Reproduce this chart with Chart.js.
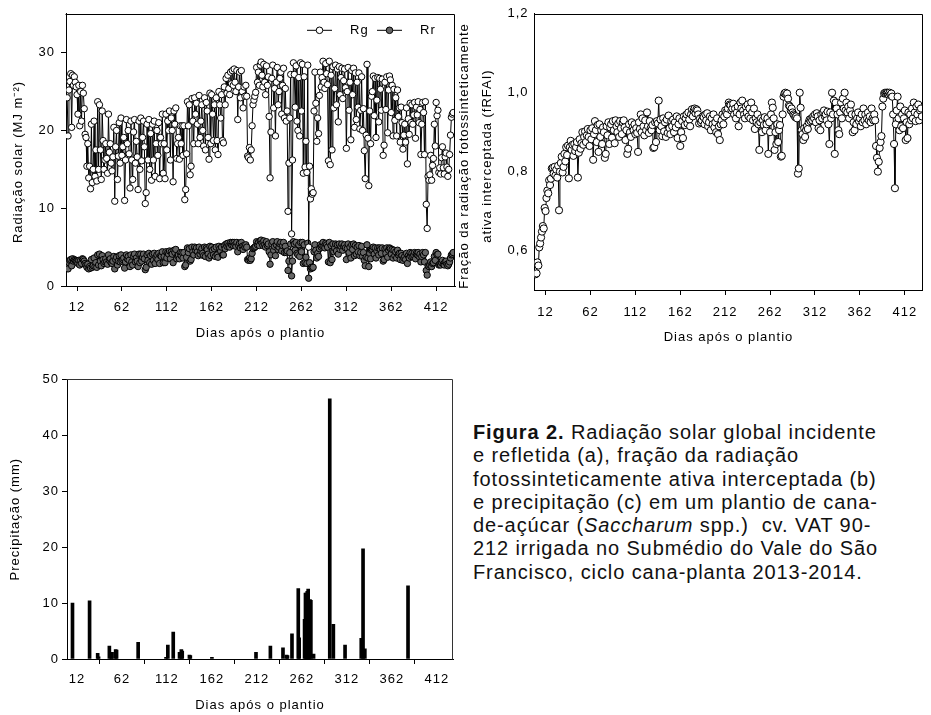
<!DOCTYPE html>
<html>
<head>
<meta charset="utf-8">
<script src="https://cdn.jsdelivr.net/npm/chart.js@4.4.0/dist/chart.umd.min.js"></script>
<style>
  html, body { margin: 0; padding: 0; background: #fff; }
  body { width: 931px; height: 715px; position: relative; overflow: hidden; }
  canvas { position: absolute; }
  #chartA { left: 0; top: 0; }
  #chartB { left: 455px; top: 0; }
  #chartC { left: 0; top: 360px; }
  .caption {
    position: absolute; left: 473px; top: 421px;
    font-family: 'Liberation Sans', Arial, sans-serif;
    font-size: 20px; line-height: 23.3px; letter-spacing: 0.9px;
    color: #111; white-space: nowrap;
  }
</style>
</head>
<body>
<canvas id="chartA" width="460" height="345"></canvas>
<canvas id="chartB" width="476" height="350"></canvas>
<canvas id="chartC" width="460" height="355"></canvas>
<div class="caption">
  <b>Figura 2.</b> Radiação solar global incidente<br>
  e refletida (a), fração da radiação<br>
  fotossinteticamente ativa interceptada (b)<br>
  e precipitação (c) em um plantio de cana-<br>
  de-açúcar (<i>Saccharum</i> spp.)&nbsp; cv. VAT 90-<br>
  212 irrigada no Submédio do Vale do São<br>
  Francisco, ciclo cana-planta 2013-2014.
</div>
<script>
// first day of the daily series (days after planting)
const firstDay = 1;
const dayTicks = [12, 62, 112, 162, 212, 262, 312, 362, 412];

// Rg - global incident solar radiation (MJ m-2), one value per day
const rg = [
  24.2, 19.3, 25.2, 26.3, 27.3, 20.4, 27.1, 25.8, 26.9, 26.2,
  25.6, 24.6, 22.1, 25.8, 20.6, 25.0, 21.2, 25.8, 24.8, 22.8,
  19.5, 19.1, 15.4, 18.3, 13.9, 15.4, 12.5, 20.8, 13.3, 15.0,
  21.2, 14.1, 17.5, 13.5, 23.7, 15.0, 23.3, 17.5, 13.7, 22.5,
  18.7, 15.0, 16.2, 18.3, 16.4, 14.5, 22.1, 17.2, 18.3, 15.8,
  14.8, 16.6, 20.4, 10.9, 17.9, 20.0, 13.7, 16.7, 21.0, 15.8,
  21.6, 16.8, 17.9, 19.1, 11.0, 16.2, 21.4, 18.3, 20.0, 17.0,
  12.6, 21.2, 16.2, 13.7, 19.8, 21.4, 15.8, 18.6, 16.6, 12.4,
  21.2, 15.0, 21.6, 16.1, 19.1, 21.2, 17.9, 10.6, 12.0, 20.8,
  16.2, 21.4, 15.0, 19.6, 13.6, 20.8, 16.2, 21.2, 14.1, 18.3,
  20.0, 16.8, 21.0, 13.8, 19.1, 18.3, 22.1, 14.5, 18.3, 13.8,
  22.1, 17.5, 21.2, 20.0, 22.5, 16.2, 21.6, 20.0, 13.4, 22.5,
  20.8, 22.9, 16.4, 18.3, 19.1, 16.3, 20.6, 18.3, 20.6, 16.8,
  20.6, 11.1, 12.4, 17.0, 23.7, 20.6, 23.3, 14.3, 15.4, 24.1,
  21.2, 18.3, 24.2, 22.1, 23.5, 20.8, 18.3, 24.5, 19.1, 21.2,
  23.3, 20.0, 18.0, 24.2, 17.5, 23.6, 22.5, 19.1, 16.3, 24.8,
  18.3, 24.6, 22.1, 18.7, 23.3, 17.5, 24.2, 18.7, 16.9, 25.0,
  23.3, 21.6, 24.6, 18.7, 18.4, 25.6, 23.3, 26.7, 24.8, 27.1,
  25.4, 24.6, 27.5, 26.0, 27.7, 25.8, 27.9, 26.2, 25.0, 27.7,
  21.4, 25.6, 27.5, 24.2, 27.7, 25.0, 22.9, 25.6, 24.4, 25.8,
  24.4, 16.7, 16.5, 17.8, 16.2, 17.5, 20.6, 23.3, 23.9, 24.4,
  24.9, 28.1, 26.2, 27.5, 25.8, 28.4, 28.8, 27.1, 25.6, 28.5,
  26.2, 24.6, 28.3, 25.8, 26.9, 21.8, 13.9, 19.8, 26.7, 28.4,
  22.9, 25.4, 19.3, 26.2, 28.1, 23.3, 25.0, 26.7, 27.5, 22.1,
  25.8, 28.0, 21.6, 25.4, 21.2, 22.5, 9.6, 15.8, 21.6, 27.2,
  6.7, 16.2, 28.7, 27.2, 23.0, 28.3, 21.2, 20.0, 26.8, 19.3,
  28.7, 22.5, 28.5, 14.5, 26.9, 15.3, 18.6, 14.6, 28.4, 5.0,
  15.4, 11.2, 12.5, 11.8, 12.0, 22.5, 27.5, 23.5, 18.6, 21.6,
  19.6, 24.5, 27.5, 25.6, 26.8, 28.9, 26.2, 25.4, 28.6, 27.3,
  25.9, 16.1, 28.9, 15.6, 27.1, 17.5, 28.2, 22.9, 25.4, 28.4,
  23.3, 27.9, 21.1, 28.2, 24.6, 26.8, 28.0, 24.1, 26.4, 27.9,
  25.5, 17.7, 25.0, 28.1, 22.6, 26.2, 18.8, 27.7, 24.6, 28.0,
  20.4, 27.4, 21.4, 26.2, 23.0, 27.4, 20.2, 22.6, 26.9, 20.0,
  22.8, 17.4, 13.8, 19.4, 28.5, 19.0, 12.9, 22.5, 18.3, 24.4,
  25.0, 27.0, 21.9, 26.7, 19.1, 23.9, 26.8, 21.1, 26.7, 25.3,
  22.6, 26.6, 16.8, 18.1, 26.2, 22.7, 26.9, 19.7, 25.2, 27.0,
  26.5, 22.3, 25.8, 19.3, 25.3, 21.3, 24.2, 19.3, 25.2, 21.8,
  22.9, 18.5, 23.0, 21.0, 17.6, 19.4, 20.8, 18.5, 22.9, 15.7,
  21.5, 19.5, 23.5, 21.0, 23.3, 20.8, 22.0, 23.6, 19.0, 23.0,
  22.0, 23.7, 21.0, 22.7, 16.9, 20.8, 23.6, 22.3, 16.9, 23.7,
  10.5, 7.4, 14.1, 13.6, 14.3, 16.8, 13.6, 15.5, 16.4, 20.8,
  18.0, 23.6, 21.9, 22.6, 14.6, 15.2, 14.4, 16.5, 17.9, 15.2,
  14.4, 16.6, 17.1, 15.3, 14.1, 15.0, 16.9, 19.4, 21.7, 22.1, 22.3
];

// Rr - reflected solar radiation (MJ m-2)
const rr = [
  2.7, 2.2, 3.0, 3.3, 3.4, 2.6, 3.5, 3.2, 3.4, 3.3,
  3.2, 3.1, 2.9, 3.3, 2.7, 3.3, 2.9, 3.5, 3.4, 3.2,
  2.9, 2.7, 2.4, 2.8, 2.2, 2.5, 2.3, 3.4, 2.4, 2.6,
  3.6, 2.5, 3.0, 2.4, 4.0, 2.7, 4.1, 3.2, 2.6, 3.9,
  3.4, 2.9, 3.1, 3.5, 3.1, 2.8, 4.0, 3.3, 3.5, 3.0,
  2.9, 3.2, 3.8, 2.2, 3.4, 3.7, 2.7, 3.2, 3.9, 3.1,
  4.0, 3.2, 3.4, 3.6, 2.3, 3.1, 4.0, 3.5, 3.8, 3.3,
  2.5, 4.0, 3.1, 2.7, 3.8, 4.1, 3.1, 3.6, 3.2, 2.5,
  4.1, 3.0, 4.1, 3.2, 3.7, 4.1, 3.5, 2.1, 2.4, 4.0,
  3.3, 4.2, 3.0, 3.9, 2.8, 4.1, 3.3, 4.2, 2.9, 3.7,
  4.0, 3.4, 4.2, 2.9, 3.9, 3.8, 4.4, 3.0, 3.8, 3.0,
  4.4, 3.6, 4.3, 4.1, 4.5, 3.5, 4.4, 4.1, 3.0, 4.6,
  4.3, 4.7, 3.5, 3.9, 4.0, 3.5, 4.3, 3.9, 4.3, 3.6,
  4.3, 2.5, 2.7, 3.7, 4.9, 4.3, 4.8, 3.2, 3.4, 5.0,
  4.4, 4.0, 5.0, 4.6, 4.9, 4.4, 3.9, 5.0, 4.1, 4.5,
  4.8, 4.2, 3.9, 5.0, 3.8, 4.9, 4.7, 4.1, 3.6, 5.1,
  3.9, 5.0, 4.6, 4.0, 4.8, 3.8, 5.0, 4.0, 3.7, 5.1,
  4.8, 4.5, 5.0, 4.0, 4.0, 5.2, 4.8, 5.4, 5.1, 5.5,
  5.2, 5.0, 5.6, 5.3, 5.6, 5.2, 5.6, 5.3, 5.1, 5.6,
  4.4, 5.2, 5.5, 4.9, 5.6, 5.1, 4.7, 5.2, 5.0, 5.3,
  5.0, 3.4, 3.3, 3.6, 3.3, 3.5, 4.2, 4.8, 4.9, 5.0,
  5.1, 5.7, 5.3, 5.6, 5.2, 5.8, 5.9, 5.5, 5.2, 5.8,
  5.3, 5.0, 5.7, 5.2, 5.4, 4.4, 2.8, 4.0, 5.4, 5.7,
  4.6, 5.1, 3.9, 5.3, 5.7, 4.7, 5.0, 5.4, 5.6, 4.5,
  5.2, 5.6, 4.3, 5.1, 4.3, 4.5, 2.0, 3.2, 4.3, 5.4,
  1.3, 3.2, 5.7, 5.4, 4.6, 5.6, 4.2, 4.0, 5.3, 3.8,
  5.6, 4.4, 5.6, 2.9, 5.3, 3.0, 3.7, 2.9, 5.5, 1.0,
  3.0, 2.2, 2.4, 2.3, 2.4, 4.4, 5.3, 4.6, 3.6, 4.2,
  3.8, 4.8, 5.3, 5.0, 5.2, 5.6, 5.1, 4.9, 5.5, 5.3,
  5.0, 3.1, 5.6, 3.0, 5.2, 3.4, 5.4, 4.4, 4.9, 5.4,
  4.5, 5.3, 4.1, 5.4, 4.7, 5.1, 5.4, 4.6, 5.1, 5.3,
  4.9, 3.4, 4.8, 5.4, 4.3, 5.0, 3.6, 5.3, 4.7, 5.4,
  3.9, 5.2, 4.1, 5.0, 4.4, 5.2, 3.9, 4.3, 5.1, 3.8,
  4.3, 3.3, 2.6, 3.7, 5.3, 3.6, 2.5, 4.2, 3.5, 4.6,
  4.7, 5.0, 4.1, 4.9, 3.6, 4.5, 4.9, 4.0, 4.9, 4.7,
  4.2, 4.9, 3.2, 3.4, 4.8, 4.2, 4.9, 3.7, 4.6, 4.9,
  4.8, 4.1, 4.7, 3.6, 4.6, 3.9, 4.4, 3.6, 4.6, 4.0,
  4.2, 3.4, 4.2, 3.9, 3.3, 3.6, 3.8, 3.4, 4.2, 2.9,
  3.9, 3.6, 4.3, 3.8, 4.2, 3.8, 4.0, 4.3, 3.5, 4.2,
  4.0, 4.3, 3.8, 4.1, 3.1, 3.8, 4.3, 4.0, 3.1, 4.3,
  2.0, 1.4, 2.6, 2.5, 2.7, 3.1, 2.5, 2.9, 3.0, 3.8,
  3.3, 4.3, 4.0, 4.1, 2.7, 2.8, 2.7, 3.0, 3.3, 2.8,
  2.7, 3.1, 3.2, 2.8, 2.6, 2.8, 3.1, 3.6, 4.0, 4.1, 4.3
];

// fRFAI - fraction of intercepted photosynthetically active radiation
const frfai = [
  0.540, 0.542, 0.570, 0.562, 0.608, 0.618, 0.633, 0.648, 0.662, 0.656,
  0.708, 0.700, 0.733, 0.752, 0.745, 0.778, 0.766, 0.782, 0.808, 0.810,
  0.795, 0.812, 0.790, 0.805, 0.785, 0.815, 0.702, 0.800, 0.822, 0.838,
  0.798, 0.812, 0.845, 0.826, 0.862, 0.842, 0.866, 0.783, 0.862, 0.878,
  0.855, 0.868, 0.840, 0.870, 0.852, 0.862, 0.875, 0.785, 0.848, 0.882,
  0.858, 0.872, 0.900, 0.868, 0.888, 0.902, 0.875, 0.892, 0.908, 0.888,
  0.865, 0.905, 0.882, 0.910, 0.830, 0.895, 0.928, 0.905, 0.875, 0.918,
  0.850, 0.920, 0.888, 0.905, 0.870, 0.912, 0.900, 0.835, 0.845, 0.915,
  0.892, 0.925, 0.870, 0.912, 0.920, 0.886, 0.928, 0.905, 0.872, 0.930,
  0.915, 0.900, 0.922, 0.888, 0.928, 0.910, 0.895, 0.925, 0.930, 0.912,
  0.880, 0.905, 0.845, 0.858, 0.920, 0.900, 0.888, 0.925, 0.912, 0.905,
  0.920, 0.895, 0.910, 0.898, 0.850, 0.925, 0.908, 0.945, 0.900, 0.935,
  0.915, 0.892, 0.930, 0.905, 0.950, 0.915, 0.898, 0.928, 0.910, 0.905,
  0.918, 0.860, 0.862, 0.925, 0.875, 0.928, 0.922, 0.980, 0.905, 0.932,
  0.915, 0.890, 0.935, 0.902, 0.925, 0.888, 0.932, 0.898, 0.942, 0.910,
  0.895, 0.928, 0.915, 0.932, 0.900, 0.925, 0.912, 0.940, 0.885, 0.920,
  0.935, 0.865, 0.900, 0.928, 0.885, 0.940, 0.918, 0.935, 0.945, 0.922,
  0.950, 0.932, 0.915, 0.945, 0.958, 0.940, 0.955, 0.960, 0.948, 0.958,
  0.955, 0.945, 0.922, 0.935, 0.925, 0.930, 0.940, 0.938, 0.920, 0.945,
  0.930, 0.948, 0.915, 0.925, 0.940, 0.905, 0.935, 0.920, 0.945, 0.912,
  0.925, 0.900, 0.935, 0.895, 0.915, 0.880, 0.920, 0.930, 0.945, 0.920,
  0.940, 0.955, 0.950, 0.945, 0.960, 0.975, 0.970, 0.968, 0.955, 0.960,
  0.972, 0.945, 0.960, 0.935, 0.950, 0.965, 0.915, 0.945, 0.975, 0.960,
  0.980, 0.955, 0.945, 0.935, 0.965, 0.950, 0.970, 0.940, 0.960, 0.935,
  0.975, 0.950, 0.930, 0.960, 0.908, 0.935, 0.925, 0.945, 0.920, 0.855,
  0.925, 0.935, 0.900, 0.930, 0.918, 0.938, 0.905, 0.920, 0.935, 0.845,
  0.925, 0.900, 0.945, 0.975, 0.962, 0.935, 0.855, 0.900, 0.870, 0.920,
  0.875, 0.905, 0.918, 0.838, 0.840, 0.945, 0.990, 0.998, 1.000, 0.995,
  0.998, 0.985, 0.968, 0.965, 0.955, 0.960, 0.950, 0.945, 0.942, 0.938,
  0.940, 0.935, 0.795, 0.808, 1.000, 0.962, 0.905, 0.895, 0.880, 0.910,
  0.888, 0.905, 0.915, 0.908, 0.925, 0.932, 0.928, 0.935, 0.930, 0.940,
  0.935, 0.945, 0.925, 0.948, 0.940, 0.910, 0.930, 0.905, 0.945, 0.935,
  0.950, 0.955, 0.940, 0.945, 0.930, 0.952, 0.920, 0.870, 0.950, 0.935,
  1.000, 0.945, 0.980, 0.845, 0.975, 0.960, 0.945, 0.905, 0.895, 0.950,
  0.975, 0.935, 0.985, 0.960, 1.000, 0.955, 0.975, 0.950, 0.965, 0.935,
  0.955, 0.970, 0.945, 0.900, 0.925, 0.905, 0.945, 0.920, 0.935, 0.950,
  0.928, 0.935, 0.915, 0.945, 0.925, 0.960, 0.930, 0.945, 0.920, 0.935,
  0.950, 0.930, 0.940, 0.925, 0.960, 0.935, 0.930, 0.945, 0.930, 0.865,
  0.835, 0.800, 0.825, 0.860, 0.875, 0.890, 0.965, 0.985, 0.998, 1.000,
  0.998, 1.000, 1.000, 0.995, 1.000, 0.995, 0.998, 0.990, 0.945, 0.870,
  0.758, 0.920, 0.955, 0.990, 0.935, 0.905, 0.965, 0.915, 0.945, 0.910,
  0.935, 0.955, 0.880, 0.925, 0.885, 0.950, 0.920, 0.945, 0.930, 0.960,
  0.935, 0.975, 0.950, 0.928, 0.965, 0.945, 0.970, 0.930, 0.955, 0.960, 0.940
];

// rain events: day after planting and depth (mm)
const rainDays = [7, 26, 35, 36, 48, 50, 51, 55, 56, 80, 111, 113, 119, 126, 128, 129, 137, 138,
  162, 211, 227, 241, 245, 246, 251, 258, 259, 265, 266, 267, 268, 269, 270, 271, 272, 275,
  293, 297, 310, 328, 330, 332, 380];
const rainMm = [10.0, 10.4, 1.0, 0.4, 2.3, 0.5, 1.2, 1.7, 1.6, 3.0, 0.3, 2.5, 4.8, 1.2, 1.7, 1.4, 0.7, 0.6,
  0.3, 1.2, 2.3, 2.0, 0.7, 0.6, 4.5, 12.6, 3.8, 7.1, 11.8, 11.8, 12.1, 12.5, 9.0, 10.6, 10.5, 0.9,
  46.5, 6.2, 2.5, 3.7, 19.7, 1.8, 13.1];

const yTicksA = [0, 10, 20, 30];
const yTicksB = [0.6, 0.8, 1.0, 1.2];
const yTicksC = [0, 10, 20, 30, 40, 50];

const FONT = "'Liberation Sans', Arial, sans-serif";
const INK = '#000';

const toPoints = arr => arr.map((v, i) => ({ x: firstDay + i, y: v }));

// wide tracking of the original figure's lettering
const tracking = {
  id: 'tracking',
  beforeDraw(chart) { chart.ctx.letterSpacing = '1px'; }
};

// closed box around the plot area
const frame = {
  id: 'frame',
  afterDraw(chart, args, opts) {
    const { left, top, right, bottom } = chart.chartArea;
    const ctx = chart.ctx;
    ctx.save();
    ctx.strokeStyle = opts.color || INK;
    ctx.lineWidth = 1;
    ctx.beginPath();
    ctx.moveTo(Math.round(left) - 0.5, Math.round(top) + 0.5);
    ctx.lineTo(Math.round(right) - 0.5, Math.round(top) + 0.5);
    ctx.lineTo(Math.round(right) - 0.5, Math.round(bottom) + 0.5);
    ctx.stroke();
    ctx.restore();
  }
};

// rotated y title, placed where the original has it (a bit below the axis centre)
const sideTitle = {
  id: 'sideTitle',
  afterDraw(chart, args, opts) {
    if (!opts.lines) return;
    const ctx = chart.ctx;
    ctx.save();
    ctx.translate(opts.x, opts.y);
    ctx.rotate(-Math.PI / 2);
    ctx.font = '13px ' + FONT;
    ctx.fillStyle = INK;
    ctx.textAlign = 'center';
    ctx.textBaseline = 'middle';
    opts.lines.forEach((t, i) => ctx.fillText(t, 0, i * (opts.lineHeight || 16)));
    ctx.restore();
  }
};

// legend drawn inside the plot: line with marker, then label
const innerLegend = {
  id: 'innerLegend',
  afterDraw(chart, args, opts) {
    if (!opts.starts) return;
    const ctx = chart.ctx;
    const y = chart.chartArea.top + 16;
    ctx.save();
    ctx.font = '13px ' + FONT;
    ctx.textBaseline = 'middle';
    chart.data.datasets.forEach((ds, i) => {
      const x0 = opts.starts[i];
      ctx.strokeStyle = INK;
      ctx.lineWidth = 1;
      ctx.beginPath();
      ctx.moveTo(x0, y + 0.5);
      ctx.lineTo(x0 + 25, y + 0.5);
      ctx.stroke();
      ctx.beginPath();
      ctx.arc(x0 + 12.5, y + 0.5, 3.3, 0, Math.PI * 2);
      ctx.fillStyle = ds.pointBackgroundColor;
      ctx.fill();
      ctx.stroke();
      ctx.fillStyle = INK;
      ctx.fillText(ds.label, x0 + 43, y + 1);
    });
    ctx.restore();
  }
};

function dayAxis(min, max, height, tickPad, titlePad) {
  return {
    type: 'linear',
    min: min,
    max: max,
    offset: false,
    afterBuildTicks: s => { s.ticks = dayTicks.map(v => ({ value: v })); },
    afterFit: s => { s.height = height; },
    grid: { drawOnChartArea: false, drawTicks: true, tickLength: 5, color: INK },
    border: { display: true, color: INK, width: 1 },
    ticks: { color: INK, font: { family: FONT, size: 13 }, padding: tickPad, maxRotation: 0, autoSkip: false },
    title: { display: true, text: 'Dias após o plantio', color: INK, font: { family: FONT, size: 13 },
      padding: { top: 0, bottom: titlePad } }
  };
}

Chart.defaults.font.family = FONT;

// (a) solar radiation
new Chart(document.getElementById('chartA'), {
  type: 'line',
  data: {
    datasets: [
      { label: 'Rg', data: toPoints(rg), borderColor: INK, borderWidth: 1,
        pointRadius: 3.2, pointBorderWidth: 1, pointBorderColor: INK, pointBackgroundColor: '#ffffff' },
      { label: 'Rr', data: toPoints(rr), borderColor: INK, borderWidth: 1,
        pointRadius: 3.2, pointBorderWidth: 1, pointBorderColor: INK, pointBackgroundColor: '#666666' }
    ]
  },
  options: {
    responsive: false, animation: false, devicePixelRatio: 1,
    layout: { padding: { left: 0, top: 6, right: 5, bottom: 0 } },
    elements: { line: { tension: 0 } },
    plugins: { legend: { display: false }, tooltip: { enabled: false },
      innerLegend: { starts: [307, 377] },
      sideTitle: { lines: ['Radiação solar (MJ m⁻²)'], x: 18, y: 162 } },
    scales: {
      x: dayAxis(-0.3, 433, 59, 9, 4),
      y: {
        min: 0, max: 35,
        afterBuildTicks: s => { s.ticks = yTicksA.map(v => ({ value: v })); },
        afterFit: s => { s.width = 66; },
        grid: { drawOnChartArea: false, drawTicks: true, tickLength: 5, color: INK },
        border: { display: true, color: INK, width: 1 },
        ticks: { color: INK, font: { size: 13 }, padding: 6 },
        title: { display: false }
      }
    }
  },
  plugins: [tracking, frame, innerLegend, sideTitle]
});

// (b) intercepted fraction
new Chart(document.getElementById('chartB'), {
  type: 'line',
  data: {
    datasets: [
      { label: 'fRFAI', data: toPoints(frfai), borderColor: INK, borderWidth: 1,
        pointRadius: 3.6, pointBorderWidth: 1, pointBorderColor: INK, pointBackgroundColor: '#ffffff' }
    ]
  },
  options: {
    responsive: false, animation: false, devicePixelRatio: 1,
    layout: { padding: { left: 0, top: 10, right: 8.5, bottom: 0 } },
    elements: { line: { tension: 0 } },
    plugins: { legend: { display: false }, tooltip: { enabled: false },
      sideTitle: { lines: ['Fração da radiação fotossinteticamente', 'ativa interceptada (fRFAI)'],
        x: 9.5, y: 156, lineHeight: 22.5 } },
    scales: {
      x: dayAxis(-0.3, 431.7, 60, 9.5, 4.5),
      y: {
        min: 0.5, max: 1.2,
        afterBuildTicks: s => { s.ticks = yTicksB.map(v => ({ value: v })); },
        afterFit: s => { s.width = 79.5; },
        grid: { drawOnChartArea: false, drawTicks: false, color: INK },
        border: { display: true, color: INK, width: 1 },
        ticks: { color: INK, font: { size: 13 }, padding: 6,
          callback: v => v.toFixed(1).replace('.', ',') },
        title: { display: false }
      }
    }
  },
  plugins: [tracking, frame, sideTitle]
});

// (c) rainfall
new Chart(document.getElementById('chartC'), {
  type: 'bar',
  data: {
    datasets: [
      { label: 'Precipitação', data: rainDays.map((d, i) => ({ x: d, y: rainMm[i] })),
        backgroundColor: '#000', barThickness: 3 }
    ]
  },
  options: {
    responsive: false, animation: false, devicePixelRatio: 1,
    layout: { padding: { left: 0, top: 19.3, right: 7, bottom: 0 } },
    plugins: { legend: { display: false }, tooltip: { enabled: false }, frame: { color: '#333' } },
    scales: {
      x: dayAxis(0.9, 430, 56, 8, 1.5),
      y: {
        min: 0, max: 50,
        afterBuildTicks: s => { s.ticks = yTicksC.map(v => ({ value: v })); },
        afterFit: s => { s.width = 67; },
        grid: { drawOnChartArea: false, drawTicks: true, tickLength: 5, color: INK },
        border: { display: true, color: INK, width: 1 },
        ticks: { color: INK, font: { size: 13 }, padding: 3 },
        title: { display: true, text: 'Precipitação (mm)', color: INK, font: { size: 13 },
          padding: { top: 8, bottom: 0 } }
      }
    }
  },
  plugins: [tracking, frame]
});
</script>
</body>
</html>
